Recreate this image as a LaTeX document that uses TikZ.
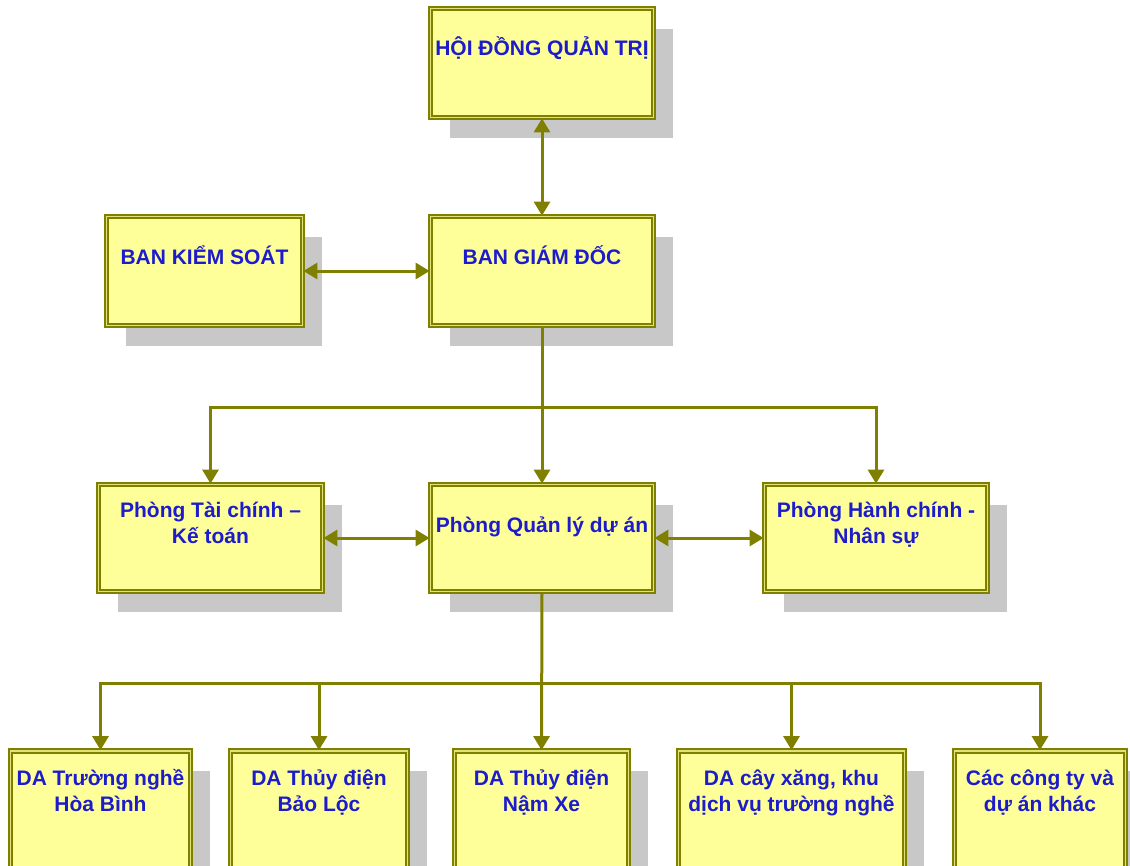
\documentclass[tikz,border=0pt]{standalone}
\usepackage{fontspec}
\setmainfont{Liberation Sans}
\usetikzlibrary{arrows.meta,shadows,calc}
\definecolor{linec}{HTML}{808000}
\definecolor{boxfill}{HTML}{FFFF99}
\definecolor{dblc}{HTML}{E2E27A}
\definecolor{txtc}{HTML}{1C1CCC}
\definecolor{shadowc}{HTML}{C8C8C8}
\begin{document}
\begin{tikzpicture}[x=1pt,y=-1pt,
  box/.style={draw=linec, line width=1.8pt, double=dblc, double distance=1.8pt,
    fill=boxfill, minimum height=109pt, inner sep=0pt,
    general shadow={fill=shadowc, shadow xshift=19pt, shadow yshift=-20pt}},
  lowbox/.style={box, minimum height=150pt},
  txt/.style={text=txtc, font=\bfseries\fontsize{21}{26}\selectfont, align=center,
    anchor=base, inner sep=0pt},
  conn/.style={draw=linec, line width=3pt},
  arr/.style={conn, -{Triangle[length=14pt,width=16pt]}},
  darr/.style={conn, {Triangle[length=14pt,width=16pt]}-{Triangle[length=14pt,width=16pt]}}
]
\useasboundingbox (0,0) rectangle (1130,865);
\clip (0,0) rectangle (1130,865);
\fill[white] (0,0) rectangle (1130,865);

% boxes
\node[box, minimum width=223pt] (hdqt) at (542,63) {};
\node[box, minimum width=196pt] (bks)  at (204.5,271) {};
\node[box, minimum width=223pt] (bgd)  at (542,271) {};
\node[box, minimum width=224pt, minimum height=107pt] (tckt) at (210.5,538) {};
\node[box, minimum width=223pt, minimum height=107pt] (qlda) at (542,538) {};
\node[box, minimum width=223pt, minimum height=107pt] (hcns) at (876,538) {};
\node[lowbox, minimum width=180pt] (b1) at (100.5,826) {};
\node[lowbox, minimum width=177pt] (b2) at (319,826) {};
\node[lowbox, minimum width=174pt] (b3) at (541.5,826) {};
\node[lowbox, minimum width=226pt] (b4) at (791.5,826) {};
\node[lowbox, minimum width=171pt] (b5) at (1040,826) {};

% texts (anchor=base is the baseline of the last line)
\node[txt] (hdqt-t) at ($(hdqt.north)+(0,48)$) {HỘI ĐỒNG QUẢN TRỊ};
\node[txt] (bks-t)  at ($(bks.north)+(0,49)$) {BAN KIỂM SOÁT};
\node[txt] (bgd-t)  at ($(bgd.north)+(0,49)$) {BAN GIÁM ĐỐC};
\node[txt] (tckt-t) at ($(tckt.north)+(0,60)$) {Phòng Tài chính –\\Kế toán};
\node[txt] (qlda-t) at ($(qlda.north)+(0,49)$) {Phòng Quản lý dự án};
\node[txt] (hcns-t) at ($(hcns.north)+(0,60)$) {Phòng Hành chính -\\Nhân sự};
\node[txt] (b1-t) at ($(b1.north)+(0,61)$) {DA Trường nghề\\Hòa Bình};
\node[txt] (b2-t) at ($(b2.north)+(0,61)$) {DA Thủy điện\\Bảo Lộc};
\node[txt] (b3-t) at ($(b3.north)+(0,61)$) {DA Thủy điện\\Nậm Xe};
\node[txt] (b4-t) at ($(b4.north)+(0,61)$) {DA cây xăng, khu\\dịch vụ trường nghề};
\node[txt] (b5-t) at ($(b5.north)+(0,61)$) {Các công ty và\\dự án khác};

% connectors
\coordinate (bus1) at (542,407);
\coordinate (bus2) at (542,683);
\draw[darr] (hdqt.south) -- (bgd.north);
\draw[darr] (bks.east) -- (bgd.west);
\draw[arr] (bgd.south) -- (qlda.north);
\draw[arr] (bus1) -| (tckt.north);
\draw[arr] (bus1) -| (hcns.north);
\draw[darr] (tckt.east) -- (qlda.west);
\draw[darr] (qlda.east) -- (hcns.west);
\draw[arr] (qlda.south) -- (b3.north);
\draw[arr] (bus2) -| (b1.north);
\draw[arr] (bus2) -| (b2.north);
\draw[arr] (bus2) -| (b4.north);
\draw[arr] (bus2) -| (b5.north);
\end{tikzpicture}
\end{document}
